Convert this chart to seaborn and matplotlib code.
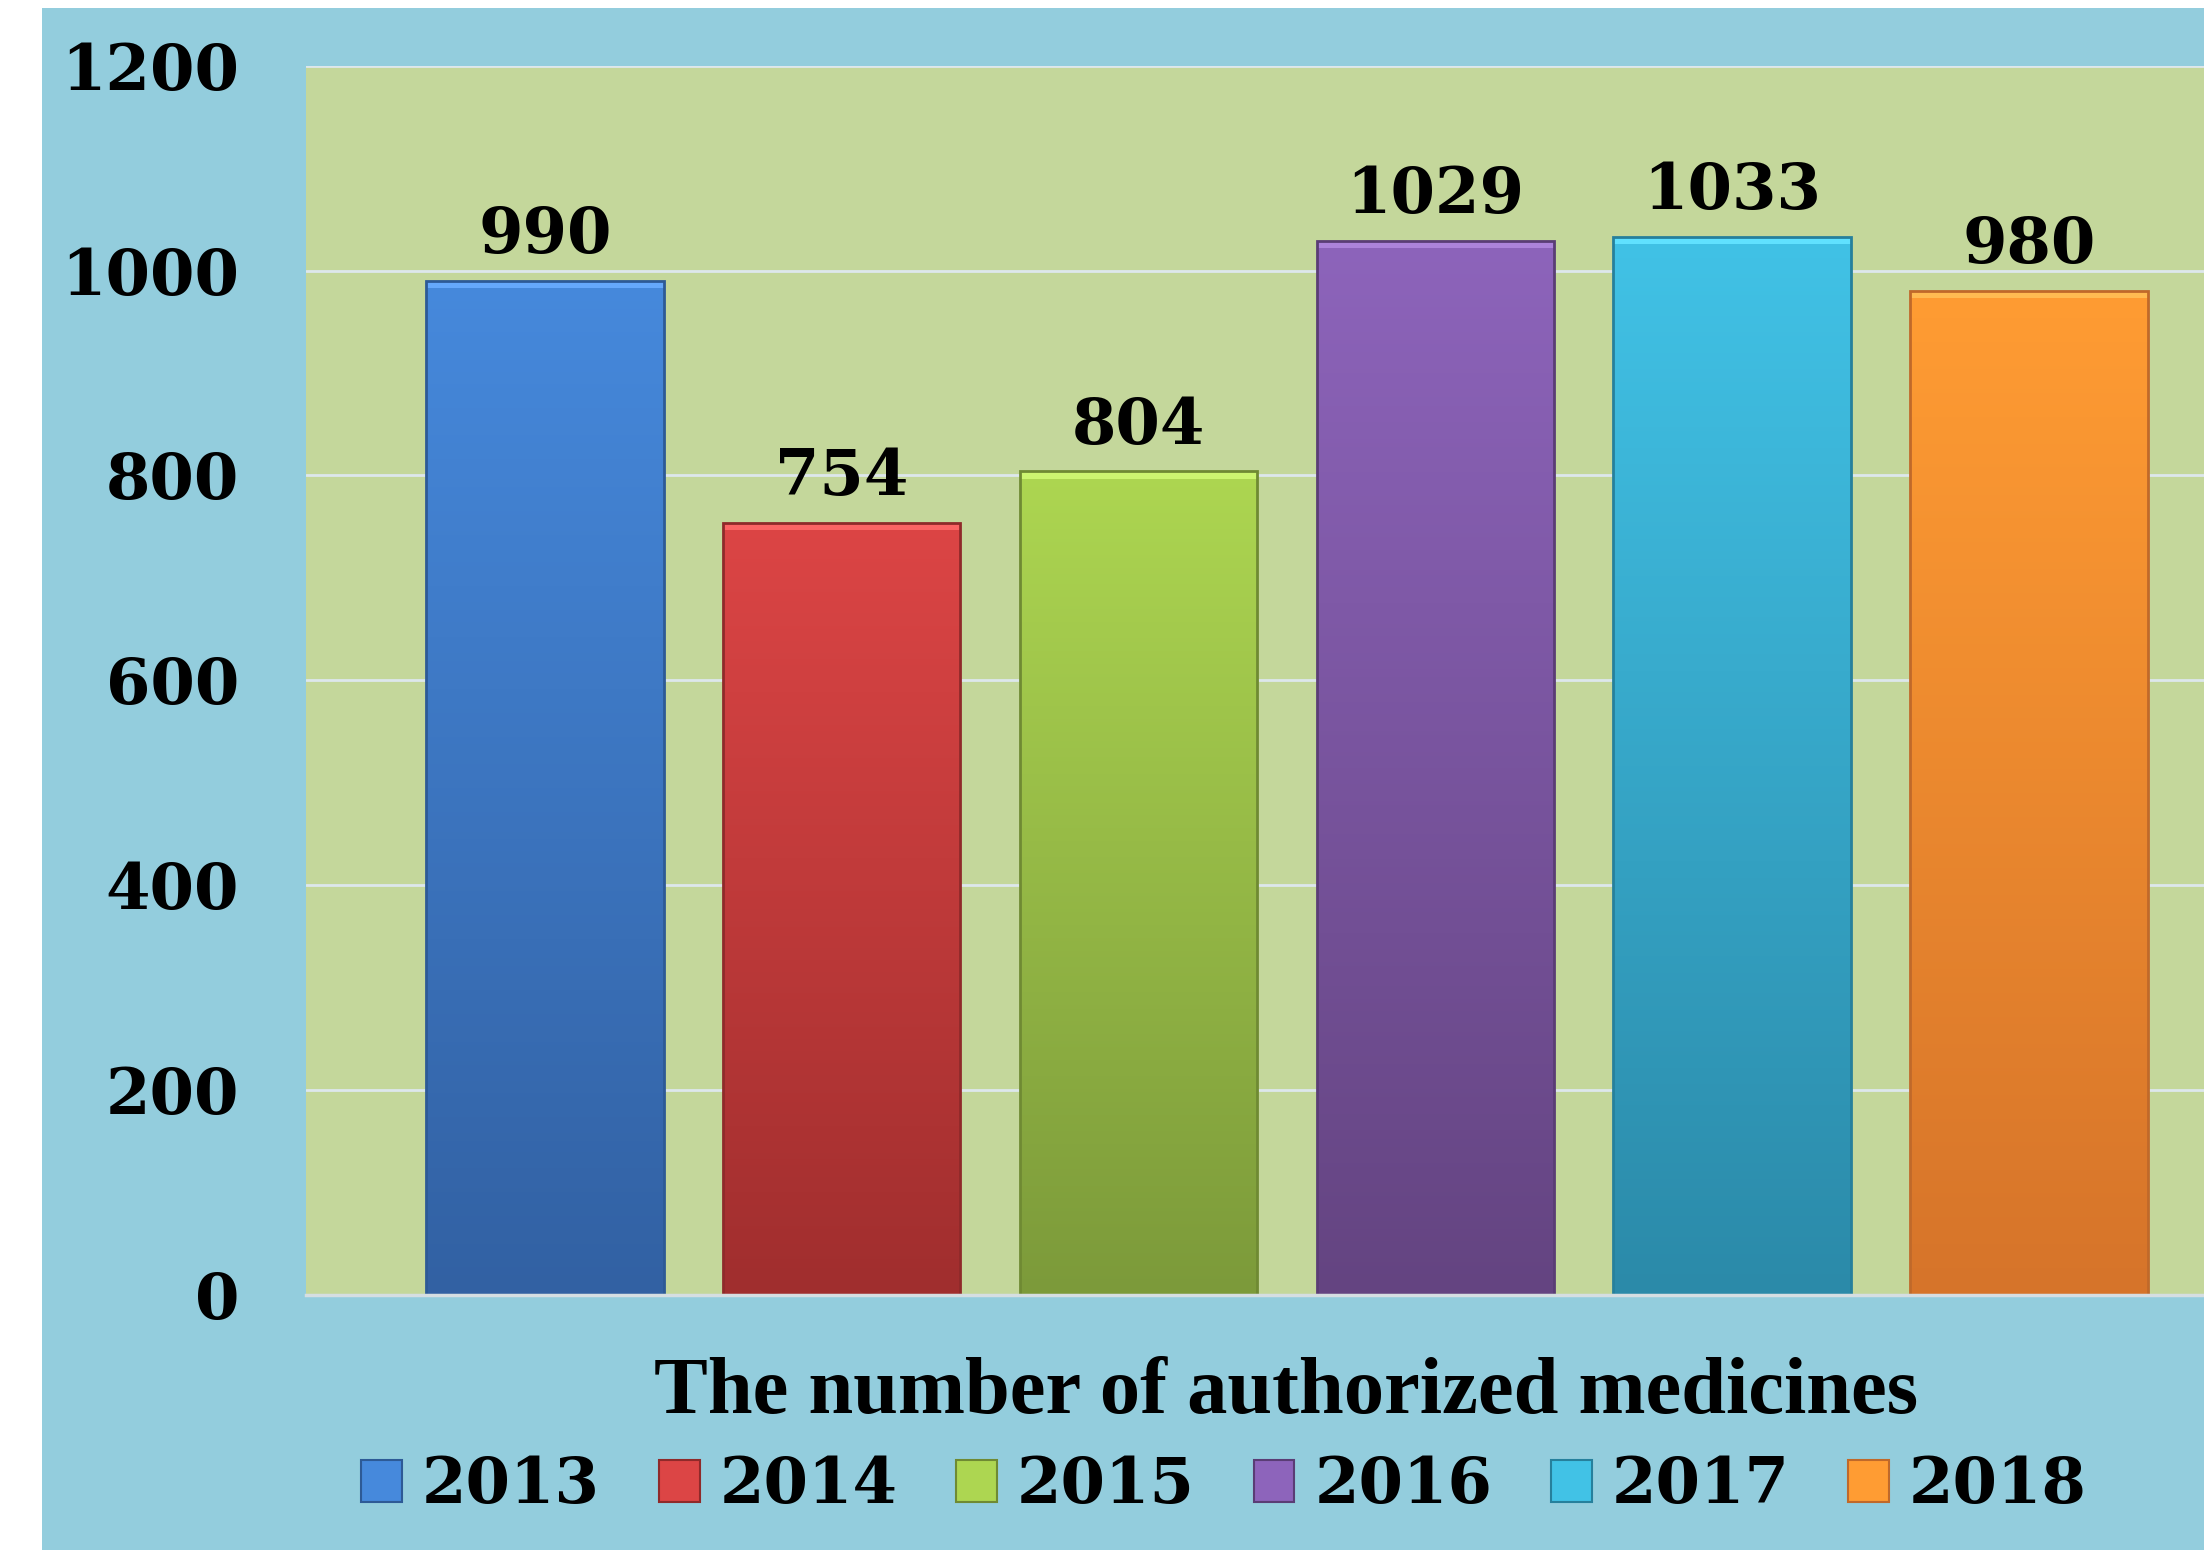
import numpy as np
import matplotlib
matplotlib.use("Agg")
import matplotlib.pyplot as plt
import matplotlib.colors as mcolors
from matplotlib.patches import Rectangle, Patch
import seaborn as sns
import pandas as pd

# ---- data ----
years = ["2013", "2014", "2015", "2016", "2017", "2018"]
values = [990, 754, 804, 1029, 1033, 980]
yticks = [0, 200, 400, 600, 800, 1000, 1200]
title = "The number of authorized medicines"

# ---- style ----
top_colors = ["#4689DC", "#DC4545", "#ADD651", "#8D64BB", "#41C2E6", "#FF9C33"]
bot_colors = ["#3261A3", "#A02E2E", "#7C9A3A", "#644481", "#2B8AA9", "#D6742A"]
edge_colors = ["#2D5A96", "#8F2A2A", "#6F8A33", "#5A3D75", "#26809C", "#C0692A"]

sns.set_theme(style="white")
DIGIT_FONT = ["DejaVu Serif"]
TITLE_FONT = ["Liberation Serif", "DejaVu Serif"]
plt.rcParams["font.family"] = DIGIT_FONT
plt.rcParams["text.color"] = "black"
FS = 46

W, H = 2204, 1550
fig = plt.figure(figsize=(W / 100, H / 100), dpi=100, facecolor="#93CDDD")

# thin white strips left/top
fig.patches.append(Rectangle((0, 0), 42 / W, 1, transform=fig.transFigure,
                             facecolor="white", edgecolor="none", zorder=-10))
fig.patches.append(Rectangle((0, 1 - 8 / H), 1, 8 / H, transform=fig.transFigure,
                             facecolor="white", edgecolor="none", zorder=-10))

ax = fig.add_axes([306 / W, 1 - 1294.5 / H, 1 - 306 / W, (1294.5 - 66) / H])
ax.set_facecolor("#C4D79B")

df = pd.DataFrame({"year": years, "value": values})
sns.barplot(data=df, x="year", y="value", hue="year", palette=top_colors,
            legend=False, ax=ax, width=0.8, saturation=1)

ax.set_ylim(0, 1200)
ax.set_yticks(yticks)
ax.set_yticklabels([str(t) for t in yticks], fontsize=FS, fontweight="bold", color="black")
ax.set_xticks([])
ax.set_xlabel("")
ax.set_ylabel("")
ax.tick_params(axis="y", length=0, pad=48)
ax.set_axisbelow(True)
ax.yaxis.grid(True, color="#DDE7EC", lw=2)
for s in ["left", "right", "top"]:
    ax.spines[s].set_visible(False)
ax.spines["bottom"].set_color("#D5DEE2")
ax.spines["bottom"].set_linewidth(2.5)
ax.spines["bottom"].set_zorder(5)

# gradient fill + bevel per bar
for i, p in enumerate(ax.patches):
    x0, y0 = p.get_x(), p.get_y()
    w, h = p.get_width(), p.get_height()
    cmap = mcolors.LinearSegmentedColormap.from_list("g", [bot_colors[i], top_colors[i]])
    grad = np.linspace(0, 1, 256).reshape(-1, 1)
    im = ax.imshow(grad, cmap=cmap, aspect="auto", origin="lower",
                   extent=[x0, x0 + w, y0, y0 + h], zorder=2.1)
    im.set_clip_path(p)
    p.set_facecolor("none")
    p.set_edgecolor(edge_colors[i])
    p.set_linewidth(2)
    p.set_zorder(2.3)
    lighter = mcolors.to_rgba(top_colors[i])
    lighter = tuple(min(1, c + 0.12) for c in lighter[:3])
    ax.add_patch(Rectangle((x0, y0 + h - 7), w, 7, facecolor=lighter,
                           edgecolor="none", zorder=2.2))
    ax.annotate(str(values[i]), xy=(x0 + w / 2, y0 + h), xytext=(0, 20),
                textcoords="offset points", ha="center", va="baseline",
                fontsize=FS, fontweight="bold", color="black")
ax.set_xlim(-0.805, 5.59)
ax.set_ylim(0, 1200)

# axis title
fig.text(1286 / W, 1 - 1413 / H, title, ha="center", va="baseline",
         fontsize=58, fontweight="bold", color="black", family=TITLE_FONT)

# legend
handles = [Patch(facecolor=top_colors[i], edgecolor=edge_colors[i], lw=1.5, label=years[i])
           for i in range(len(years))]
leg = fig.legend(handles=handles, loc="center", ncol=6,
                 bbox_to_anchor=(1224 / W, 1 - 1486 / H), frameon=False,
                 prop={"family": DIGIT_FONT, "weight": "bold", "size": FS},
                 handlelength=0.64, handleheight=0.64, handletextpad=0.31,
                 columnspacing=0.92, borderpad=0, labelcolor="black")

fig.savefig("out.png", dpi=100, facecolor=fig.get_facecolor())
